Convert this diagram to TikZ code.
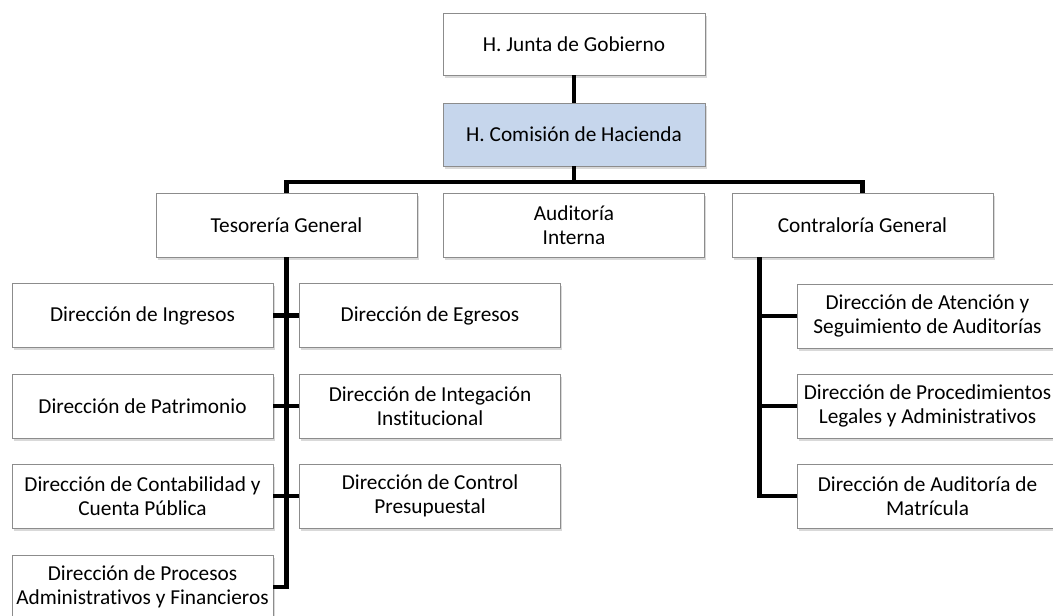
\documentclass[tikz,border=0pt]{standalone}
\usepackage{fontspec}
\setmainfont{Carlito}[Ligatures=NoCommon]
\usetikzlibrary{shadows,calc}
\definecolor{boxborder}{HTML}{8C8C8C}
\definecolor{lightblue}{HTML}{C6D6EC}
\tikzset{
  orgbox/.style={draw=boxborder, line width=0.8pt, fill=white, minimum width=261pt, minimum height=64pt,
    align=center, inner sep=0pt, font=\fontsize{21.3}{23.5}\selectfont,
    drop shadow={opacity=0.3, shadow xshift=1.5pt, shadow yshift=-2.5pt}},
  conn/.style={line width=4.5pt, draw=black, line join=miter}
}
\begin{document}
\begin{tikzpicture}[x=1pt,y=-1pt]
\useasboundingbox (0,0) rectangle (1053,616);
% top
\node[orgbox, minimum width=262pt, minimum height=62pt] (junta) at (574,44) {H. Junta de Gobierno};
\node[orgbox, fill=lightblue, minimum width=262pt, minimum height=63pt] (comision) at (574,134.5) {H. Comisión de Hacienda};
% second level
\node[orgbox] (tes) at (286.5,225) {Tesorería General};
\node[orgbox] (aud) at (574,225) {Auditoría\\Interna};
\node[orgbox] (cont) at (862.5,225) {Contraloría General};
% tesoreria children
\node[orgbox] (ing) at (142.5,315.5) {Dirección de Ingresos};
\node[orgbox] (pat) at (142.5,406) {Dirección de Patrimonio};
\node[orgbox] (conta) at (142.5,496) {Dirección de Contabilidad y\\Cuenta Pública};
\node[orgbox] (proc) at (142.5,587) {Dirección de Procesos\\Administrativos y Financieros};
\node[orgbox] (egr) at (430,315.5) {Dirección de Egresos};
\node[orgbox] (integ) at (430,406) {Dirección de Integación\\Institucional};
\node[orgbox] (ctrl) at (430,496) {Dirección de Control\\Presupuestal};
% contraloria children
\node[orgbox] (aten) at (927.5,316) {Dirección de Atención y\\Seguimiento de Auditorías};
\node[orgbox] (proced) at (927.5,406) {Dirección de Procedimientos\\Legales y Administrativos};
\node[orgbox] (audm) at (927.5,496) {Dirección de Auditoría de\\Matrícula};
% connectors
\coordinate (bar) at (574,182);
\draw[conn] (junta.south) -- (comision.north);
\draw[conn] (comision.south) -- (bar);
\draw[conn] (tes.north) |- (bar) -| (cont.north);
\draw[conn] (tes.south) |- (proc.east);
\draw[conn] (ing.east) -- (egr.west);
\draw[conn] (pat.east) -- (integ.west);
\draw[conn] (conta.east) -- (ctrl.west);
\coordinate (ct) at ($(cont.south west)+(28,0)$);
\draw[conn] (ct) |- (audm.west);
\draw[conn] (aten.west -| ct) -- (aten.west);
\draw[conn] (proced.west -| ct) -- (proced.west);
\end{tikzpicture}
\end{document}
